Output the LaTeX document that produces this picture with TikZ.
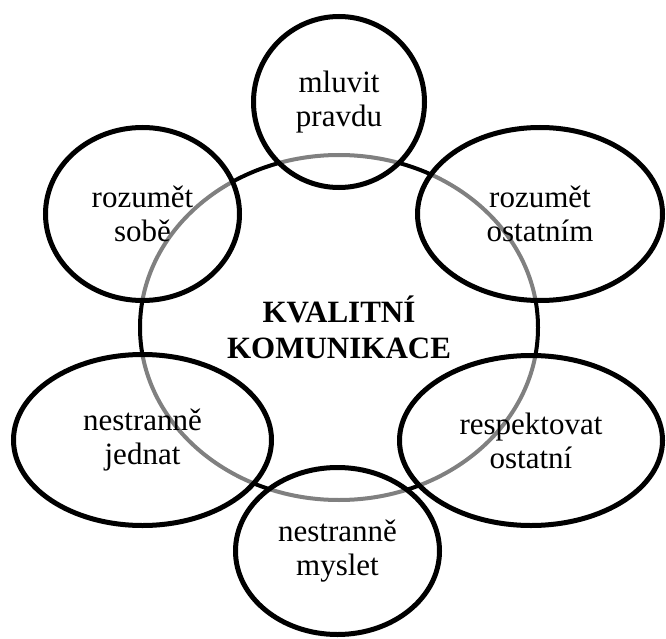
\documentclass[tikz,border=0pt]{standalone}
\usepackage{fontspec}
\setmainfont{Liberation Serif}
\usetikzlibrary{shapes.geometric}
\tikzstyle{core} = [ellipse, draw=black, line width=4pt, inner sep=0pt, align=center, font=\fontsize{31}{36}\selectfont\bfseries]
\tikzstyle{bubble} = [ellipse, draw=black, line width=5pt, fill=white, fill opacity=0.5, text opacity=1, inner sep=0pt, align=center, font=\fontsize{31}{34}\selectfont]

\begin{document}
\begin{tikzpicture}[x=1pt, y=-1pt]
        \useasboundingbox (0,0) rectangle (666,639);
        \node (core) [core, minimum width=398pt, minimum height=345pt] at (339,327.5) {KVALITNÍ\\KOMUNIKACE};
        \node (pravda) [bubble, minimum width=171pt, minimum height=171pt] at (339,102) {mluvit\\pravdu};
        \node (sobe) [bubble, minimum width=194pt, minimum height=173pt] at (142.5,214) {rozumět\\sobě};
        \node (ostatnim) [bubble, minimum width=245pt, minimum height=173pt] at (540,214) {rozumět\\ostatním};
        \node (jednat) [bubble, minimum width=258pt, minimum height=171pt] at (142.5,440) {nestranně\\jednat};
        \node (respekt) [bubble, minimum width=263pt, minimum height=170pt] at (531,440.5) {respektovat\\ostatní};
        \node (myslet) [bubble, minimum width=204pt, minimum height=167pt] at (337.5,551) {nestranně\\myslet};
    \end{tikzpicture}
\end{document}
